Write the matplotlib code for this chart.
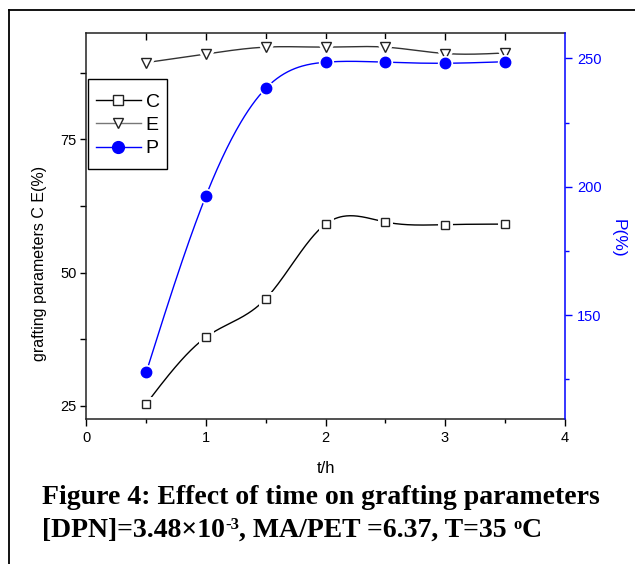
import numpy as np
import matplotlib
matplotlib.use("Agg")
import matplotlib.pyplot as plt
from matplotlib.lines import Line2D
from matplotlib.patches import Rectangle
from matplotlib.ticker import FixedLocator

# ---- data ----
t = [0.5, 1.0, 1.5, 2.0, 2.5, 3.0, 3.5]
C = [25.4, 37.9, 45.1, 59.1, 59.5, 59.0, 59.1]
E = [89.4, 91.0, 92.3, 92.3, 92.3, 91.1, 91.2]
P = [127.7, 196.5, 238.3, 248.5, 248.5, 248.1, 248.7]
x_ticks = [0, 1, 2, 3, 4]
left_ticks = [25, 50, 75]
right_ticks = [150, 200, 250]
caption1 = "Figure 4: Effect of time on grafting parameters"


def natural_spline(x, y, n=300):
    x = np.asarray(x, float); y = np.asarray(y, float)
    m = len(x); h = np.diff(x)
    A = np.zeros((m, m)); b = np.zeros(m)
    A[0, 0] = A[-1, -1] = 1
    for i in range(1, m - 1):
        A[i, i - 1] = h[i - 1]; A[i, i] = 2 * (h[i - 1] + h[i]); A[i, i + 1] = h[i]
        b[i] = 3 * ((y[i + 1] - y[i]) / h[i] - (y[i] - y[i - 1]) / h[i - 1])
    c = np.linalg.solve(A, b)
    xs = np.linspace(x[0], x[-1], n); ys = np.empty_like(xs)
    for k, xv in enumerate(xs):
        i = min(np.searchsorted(x, xv, side='right') - 1, m - 2)
        dx = xv - x[i]
        bi = (y[i + 1] - y[i]) / h[i] - h[i] * (2 * c[i] + c[i + 1]) / 3
        di = (c[i + 1] - c[i]) / (3 * h[i])
        ys[k] = y[i] + bi * dx + c[i] * dx ** 2 + di * dx ** 3
    return xs, ys


plt.rcParams['font.family'] = ['Liberation Sans', 'DejaVu Sans']
fig = plt.figure(figsize=(6.35, 5.64), dpi=100)
W, H = 635.0, 564.0
ax = fig.add_axes([0.1362, 0.2576, 0.7528, 0.6844])
ax2 = ax.twinx()

ax.set_xlim(0, 4)
ax.set_ylim(22.6, 95)
ax2.set_ylim(109.6, 260)

lw = 1.0
# lines
xs, ys = natural_spline(t, C)
ax.plot(xs, ys, color='black', lw=lw, zorder=2)
xs, ys = natural_spline(t, E)
ax.plot(xs, ys, color='#333333', lw=lw, zorder=2)
xs, ys = natural_spline(t, P)
ax2.plot(xs, ys, color='blue', lw=lw, zorder=2)
# halos (gap around markers)
ax.plot(t, C, ls='none', marker='s', ms=6, mfc='white', mec='white', mew=5, zorder=3)
ax.plot(t, E, ls='none', marker='v', ms=7, mfc='white', mec='white', mew=5, zorder=3)
ax2.plot(t, P, ls='none', marker='o', ms=7, mfc='white', mec='white', mew=4, zorder=3)
# markers
ax.plot(t, C, ls='none', marker='s', ms=6, mfc='white', mec='#222222', mew=1.0, zorder=4)
ax.plot(t, E, ls='none', marker='v', ms=7, mfc='white', mec='#222222', mew=1.0, zorder=4)
ax2.plot(t, P, ls='none', marker='o', ms=7.5, mfc='blue', mec='blue', mew=1.0, zorder=4)

# axes styling
ax.set_xticks(x_ticks)
ax.xaxis.set_minor_locator(FixedLocator([0.5, 1.5, 2.5, 3.5]))
ax.set_yticks(left_ticks)
ax.yaxis.set_minor_locator(FixedLocator([37.5, 62.5, 87.5]))
ax.tick_params(axis='x', which='major', direction='out', length=5, width=1, labelsize=10.5, pad=4)
ax.tick_params(axis='x', which='minor', direction='out', length=3, width=1)
ax.tick_params(axis='y', which='both', direction='out', length=4, width=1, labelsize=10.5, pad=3)
ax.set_xlabel('t/h', fontsize=12)
ax.xaxis.set_label_coords(0.5, -0.11)
ax.set_ylabel('grafting parameters C E(%)', fontsize=11.5)
ax.yaxis.set_label_coords(-0.083, 0.403)

secx = ax.secondary_xaxis('top')
secx.set_xticks([0.5, 1, 1.5, 2, 2.5, 3, 3.5])
secx.tick_params(axis='x', direction='in', length=5, width=1, labeltop=False)
secx.spines['top'].set_visible(False)

ax2.set_yticks(right_ticks)
ax2.yaxis.set_minor_locator(FixedLocator([125, 175, 225]))
ax2.tick_params(axis='y', which='major', direction='out', length=5.3, width=1,
                colors='blue', labelsize=10.5, pad=3.6)
ax2.tick_params(axis='y', which='minor', direction='out', length=2.9, width=1, colors='blue')
ax2.set_ylabel('P(%)', fontsize=12.5, color='blue', rotation=270, va='center')
ax2.yaxis.set_label_coords(1.112, 0.468)

for s in ['left', 'top', 'bottom']:
    ax.spines[s].set_linewidth(1.1)
    ax.spines[s].set_color('#222222')
ax.spines['right'].set_visible(False)
for s in ['left', 'top', 'bottom']:
    ax2.spines[s].set_visible(False)
ax2.spines['right'].set_color('blue')
ax2.spines['right'].set_linewidth(1.1)

# legend (frame drawn as a rectangle, entries without frame)
ax2.add_patch(Rectangle((88.3 / W, 1 - 169.3 / H), (166.7 - 88.3) / W, (169.3 - 79.3) / H,
                        transform=fig.transFigure, facecolor='white', edgecolor='black',
                        lw=1.0, zorder=5, clip_on=False))
handles = [
    Line2D([], [], color='black', lw=lw, marker='s', ms=6.5, mfc='white', mec='#222222'),
    Line2D([], [], color='#777777', lw=lw, marker='v', ms=7.5, mfc='white', mec='#222222'),
    Line2D([], [], color='blue', lw=lw, marker='o', ms=8.5, mfc='blue', mec='blue'),
]
leg = ax2.legend(handles, ['C', 'E', 'P'], loc='upper left',
                 bbox_to_anchor=(95.7 / W, 1 - 93.2 / H), bbox_transform=fig.transFigure,
                 fontsize=14, frameon=False,
                 handlelength=2.32, handletextpad=0.26, labelspacing=0.29,
                 borderpad=0, borderaxespad=0)
leg.set_zorder(6)

# page border
fig.add_artist(Line2D([9 / W, 9 / W], [0, 1 - 10 / H], color='black', lw=1.3,
                      transform=fig.transFigure))
fig.add_artist(Line2D([9 / W, 1], [1 - 10 / H, 1 - 10 / H], color='black', lw=1.3,
                      transform=fig.transFigure))

# caption
serif = dict(family=['Liberation Serif', 'DejaVu Serif'], weight='bold')
fs = 20
fig.text(42 / W, 1 - 504.4 / H, caption1, fontsize=fs, ha='left', va='baseline', **serif)

pieces = [("[DPN]=3.48×10", 0), ("-3", 1), (", MA/PET =6.37, T=35 ", 0), ("o", 1), ("C", 0)]
renderer = fig.canvas.get_renderer()
x0 = 42.0
base = H - 536.8
for s, sup in pieces:
    txt = fig.text(x0 / W, (base + (8 if sup else 0)) / H, s,
                   fontsize=fs * (0.6 if sup else 1), ha='left', va='baseline', **serif)
    bb = txt.get_window_extent(renderer)
    x0 += bb.width

fig.savefig('out.png', dpi=100)
